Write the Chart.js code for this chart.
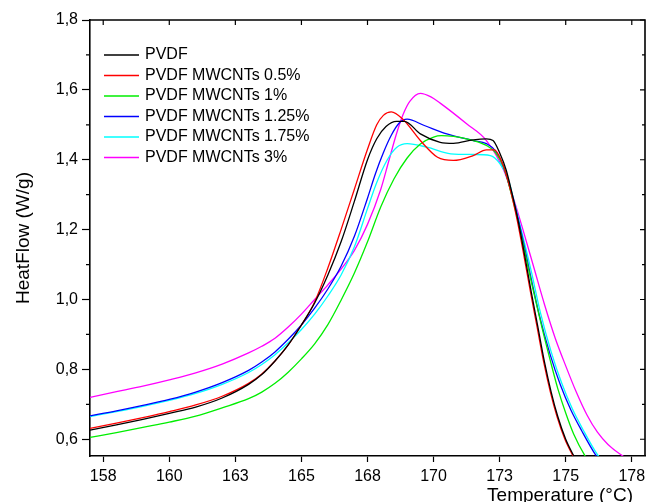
<!DOCTYPE html>
<html lang="en">
<head>
  <meta charset="UTF-8">
  <title>HeatFlow - PVDF MWCNTs</title>
  <script src="https://cdn.jsdelivr.net/npm/chart.js"></script>
  <style>
    html, body { margin: 0; padding: 0; background: #fff; }
    #grafico { display: block; }
  </style>
</head>
<body>
  <canvas id="grafico" width="646" height="502"></canvas>

  <script>
    // eixos
    const xTicks = [157.5, 160, 162.5, 165, 167.5, 170, 172.5, 175, 177.5];
    const xTickLabels = ['158', '160', '163', '165', '168', '170', '173', '175', '178'];
    const yTicks = [0.6, 0.8, 1.0, 1.2, 1.4, 1.6, 1.8];
    const yTickLabels = ['0,6', '0,8', '1,0', '1,2', '1,4', '1,6', '1,8'];
    const yMinor = [0.7, 0.9, 1.1, 1.3, 1.5, 1.7];

    // PVDF
    const pvdfT = [157, 158, 159, 160, 161, 162, 163, 163.5, 164, 164.5, 165, 165.5, 166, 166.5, 167, 167.5, 167.85, 168.2, 168.6, 168.9, 169.5, 170.25, 170.75, 171.5, 172.0, 172.25, 172.5, 172.75, 172.95, 173.2, 173.45, 173.7, 173.95, 174.2, 174.45, 174.7, 175.0, 175.3, 175.6];
    const pvdfHF = [0.626, 0.641, 0.657, 0.674, 0.692, 0.718, 0.757, 0.785, 0.824, 0.870, 0.927, 0.990, 1.070, 1.165, 1.280, 1.400, 1.460, 1.495, 1.510, 1.510, 1.474, 1.450, 1.447, 1.457, 1.460, 1.455, 1.420, 1.370, 1.310, 1.225, 1.125, 1.020, 0.920, 0.820, 0.735, 0.665, 0.600, 0.553, 0.510];

    // PVDF MWCNTs 0.5%
    const cnt05T = [157, 158, 159, 160, 161, 162, 163, 163.5, 164, 164.5, 165, 165.5, 166, 166.5, 167, 167.5, 167.85, 168.1, 168.4, 168.85, 169.5, 170.15, 170.75, 171.5, 172.0, 172.3, 172.55, 172.8, 172.95, 173.17, 173.42, 173.67, 173.92, 174.17, 174.42, 174.67, 174.97, 175.27, 175.57];
    const cnt05HF = [0.631, 0.646, 0.662, 0.679, 0.698, 0.723, 0.760, 0.787, 0.824, 0.870, 0.927, 0.993, 1.090, 1.200, 1.315, 1.430, 1.500, 1.527, 1.537, 1.515, 1.455, 1.407, 1.398, 1.412, 1.428, 1.428, 1.400, 1.345, 1.300, 1.225, 1.125, 1.020, 0.920, 0.820, 0.735, 0.665, 0.600, 0.553, 0.510];

    // PVDF MWCNTs 1%
    const cnt1T = [157, 158, 159, 160, 161, 162, 163, 163.5, 164, 164.5, 165, 165.5, 166, 166.5, 167, 167.5, 168, 168.5, 169, 169.5, 170, 170.3, 171.25, 172.0, 172.35, 172.65, 173.0, 173.3, 173.7, 174.1, 174.4, 174.7, 175.0, 175.3, 175.75, 176.0];
    const cnt1HF = [0.605, 0.619, 0.634, 0.649, 0.666, 0.690, 0.716, 0.735, 0.760, 0.792, 0.830, 0.873, 0.928, 0.998, 1.075, 1.165, 1.265, 1.345, 1.405, 1.445, 1.465, 1.469, 1.460, 1.441, 1.420, 1.379, 1.285, 1.190, 1.050, 0.920, 0.830, 0.745, 0.675, 0.615, 0.550, 0.525];

    // PVDF MWCNTs 1.25%
    const cnt125T = [157, 158, 159, 160, 161, 162, 163, 163.5, 164, 164.5, 165, 165.5, 166, 166.5, 167, 167.5, 167.8, 168.1, 168.4, 168.7, 169.0, 169.65, 170.5, 171.5, 172.0, 172.35, 172.65, 173.0, 173.3, 173.65, 174.0, 174.4, 174.8, 175.2, 175.6, 176.15, 176.5];
    const cnt125HF = [0.667, 0.681, 0.697, 0.714, 0.735, 0.762, 0.797, 0.821, 0.850, 0.886, 0.927, 0.975, 1.030, 1.095, 1.180, 1.290, 1.360, 1.420, 1.470, 1.505, 1.516, 1.498, 1.474, 1.455, 1.446, 1.425, 1.379, 1.290, 1.198, 1.075, 0.955, 0.845, 0.755, 0.683, 0.625, 0.553, 0.520];

    // PVDF MWCNTs 1.75%
    const cnt175T = [157, 158, 159, 160, 161, 162, 163, 163.5, 164, 164.5, 165, 165.5, 166, 166.5, 167, 167.5, 167.85, 168.25, 168.6, 169.0, 169.75, 170.65, 171.5, 172.15, 172.5, 172.8, 173.05, 173.3, 173.7, 174.05, 174.45, 174.85, 175.25, 175.65, 176.2, 176.55];
    const cnt175HF = [0.665, 0.679, 0.694, 0.711, 0.731, 0.757, 0.791, 0.814, 0.842, 0.876, 0.914, 0.958, 1.010, 1.070, 1.150, 1.260, 1.335, 1.400, 1.435, 1.446, 1.436, 1.417, 1.415, 1.412, 1.390, 1.350, 1.280, 1.205, 1.080, 0.960, 0.850, 0.760, 0.687, 0.628, 0.556, 0.525];

    // PVDF MWCNTs 3%
    const cnt3T = [157, 158, 159, 160, 161, 162, 163, 163.5, 164, 164.5, 165, 165.5, 166, 166.5, 167, 167.5, 168.0, 168.3, 168.6, 168.85, 169.1, 169.5, 169.9, 170.25, 171.25, 172.0, 172.66, 173.0, 173.4, 173.8, 174.2, 174.6, 175.0, 175.4, 175.8, 176.2, 176.6, 177.2, 177.7];
    const cnt3HF = [0.720, 0.736, 0.752, 0.770, 0.790, 0.815, 0.847, 0.866, 0.889, 0.921, 0.958, 1.000, 1.042, 1.087, 1.140, 1.215, 1.315, 1.395, 1.475, 1.530, 1.567, 1.590, 1.580, 1.562, 1.503, 1.455, 1.369, 1.295, 1.195, 1.090, 0.985, 0.890, 0.810, 0.735, 0.670, 0.620, 0.585, 0.550, 0.530];

    const series = [
      { nome: 'PVDF', t: pvdfT, hf: pvdfHF, cor: '#000000' },
      { nome: 'PVDF MWCNTs 0.5%', t: cnt05T, hf: cnt05HF, cor: '#ff0000' },
      { nome: 'PVDF MWCNTs 1%', t: cnt1T, hf: cnt1HF, cor: '#00ee00' },
      { nome: 'PVDF MWCNTs 1.25%', t: cnt125T, hf: cnt125HF, cor: '#0000ff' },
      { nome: 'PVDF MWCNTs 1.75%', t: cnt175T, hf: cnt175HF, cor: '#00ffff' },
      { nome: 'PVDF MWCNTs 3%', t: cnt3T, hf: cnt3HF, cor: '#ff00ff' }
    ];

    const fonte = "'Liberation Sans', Arial, sans-serif";

    // moldura, ticks internos, legenda e titulo do eixo x
    const moldura = {
      id: 'moldura',
      afterDraw(chart) {
        const { ctx, chartArea: a, scales: { x, y } } = chart;
        ctx.save();
        ctx.strokeStyle = '#000';
        ctx.lineWidth = 1.6;
        ctx.beginPath();
        ctx.moveTo(a.left, a.top);
        ctx.lineTo(a.right, a.top);
        ctx.lineTo(a.right, a.bottom);
        ctx.stroke();

        ctx.lineWidth = 1.2;
        ctx.beginPath();
        xTicks.forEach(v => {
          const px = x.getPixelForValue(v);
          ctx.moveTo(px, a.top);
          ctx.lineTo(px, a.top + 5);
        });
        yTicks.forEach(v => {
          const py = y.getPixelForValue(v);
          ctx.moveTo(a.right, py);
          ctx.lineTo(a.right - 5, py);
        });
        yMinor.forEach(v => {
          const py = y.getPixelForValue(v);
          ctx.moveTo(a.left, py);
          ctx.lineTo(a.left - 4, py);
          ctx.moveTo(a.right, py);
          ctx.lineTo(a.right - 3, py);
        });
        ctx.stroke();

        // legenda
        ctx.font = '16px ' + fonte;
        ctx.textAlign = 'left';
        ctx.textBaseline = 'middle';
        chart.data.datasets.forEach((ds, i) => {
          const ly = a.top + 35 + i * 20.5;
          ctx.strokeStyle = ds.borderColor;
          ctx.lineWidth = 1.5;
          ctx.beginPath();
          ctx.moveTo(a.left + 14, ly);
          ctx.lineTo(a.left + 49, ly);
          ctx.stroke();
          ctx.fillStyle = '#000';
          ctx.fillText(ds.label, a.left + 55, ly);
        });

        ctx.font = '19px ' + fonte;
        ctx.textAlign = 'right';
        ctx.textBaseline = 'alphabetic';
        ctx.fillText('Temperature (°C)', a.right - 12, chart.height - 1);
        ctx.restore();
      }
    };

    const ctx = document.getElementById('grafico').getContext('2d');

    new Chart(ctx, {
      type: 'scatter',
      data: {
        datasets: series.map(s => ({
          label: s.nome,
          data: s.t.map((t, i) => ({ x: t, y: s.hf[i] })),
          borderColor: s.cor,
          backgroundColor: s.cor,
          borderWidth: 1.3,
          showLine: true,
          pointRadius: 0,
          cubicInterpolationMode: 'monotone',
          fill: false
        }))
      },
      options: {
        responsive: false,
        animation: false,
        layout: { padding: { top: 20, right: 1, left: 0, bottom: 0 } },
        plugins: {
          legend: { display: false },
          tooltip: { enabled: false }
        },
        scales: {
          x: {
            type: 'linear',
            min: 157,
            max: 178,
            afterBuildTicks: s => { s.ticks = xTicks.map(v => ({ value: v })); },
            afterFit: s => { s.height = 46; s.paddingLeft = 0; s.paddingRight = 0; },
            ticks: {
              callback: (v, i) => xTickLabels[i],
              color: '#000',
              font: { family: fonte, size: 16 },
              padding: 5,
              maxRotation: 0,
              autoSkip: false
            },
            grid: { drawOnChartArea: false, tickLength: 6, color: '#000', tickWidth: 1.2 },
            border: { color: '#000', width: 1.6 }
          },
          y: {
            min: 0.552,
            max: 1.8,
            afterBuildTicks: s => { s.ticks = yTicks.map(v => ({ value: v })); },
            afterFit: s => { s.width = 90; s.paddingTop = 0; s.paddingBottom = 0; },
            ticks: {
              callback: (v, i) => yTickLabels[i],
              color: '#000',
              font: { family: fonte, size: 16 },
              padding: 4
            },
            grid: { drawOnChartArea: false, tickLength: 8, color: '#000', tickWidth: 1.2 },
            border: { color: '#000', width: 1.6 },
            title: {
              display: true,
              text: 'HeatFlow (W/g)',
              color: '#000',
              font: { family: fonte, size: 19 },
              padding: { top: 12, bottom: 0 }
            }
          }
        }
      },
      plugins: [moldura]
    });
  </script>
</body>
</html>
